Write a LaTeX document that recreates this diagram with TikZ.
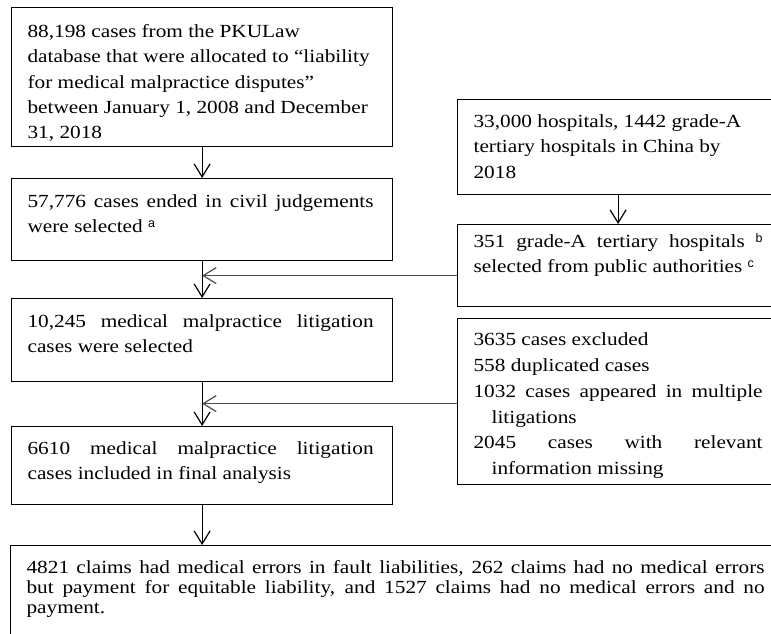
\documentclass[tikz,border=0pt]{standalone}
\usepackage{fontspec}
\setmainfont{Liberation Serif}[FakeStretch=1.15]
\setsansfont{Liberation Sans}
\usetikzlibrary{arrows.meta}

% box contents: [right pad]{width}{height}{first baseline}{text}
\newcommand{\flowtext}[5][16]{%
  \parbox[c][#3pt][t]{#2pt}{\leftskip=16pt\rightskip=#1pt
    \noindent\rule{0pt}{#4pt}#5}}
\newcommand{\supnote}[1]{\raisebox{5pt}{\fontsize{12.5}{12.5}\selectfont\sffamily #1}}

\tikzset{
  flowbox/.style={draw, line width=1.2pt, inner sep=0pt, anchor=north west},
  flowarrow/.style={line width=1.2pt, -{Straight Barb[length=13pt,width=16pt]}},
  sidearrow/.style={flowarrow, black!70},
}

\begin{document}
\begin{tikzpicture}[x=1pt, y=-1pt, font=\fontsize{18.5}{25.3}\selectfont]
    \useasboundingbox (0,0) rectangle (771,634);

    % left column
    \node[flowbox] (pku) at (11,7) {\flowtext[19]{381}{139}{30}{88,198 cases from the PKULaw\\
        database that were allocated to “liability\\ for medical malpractice disputes”\\
        between January 1, 2008 and December\\ 31, 2018}};
    \node[flowbox] (civil) at (11,178) {\flowtext[19]{381}{82}{29}{57,776 cases ended in civil judgements\linebreak
        were selected \supnote{a}}};
    \node[flowbox] (lit) at (11,298) {\flowtext[19]{381}{83}{29}{10,245 medical malpractice litigation\linebreak
        cases were selected}};
    \node[flowbox] (final) at (11,426) {\flowtext[19]{381}{78}{28}{6610 medical malpractice litigation\linebreak
        cases included in final analysis}};
    \node[flowbox] (claims) at (10,545) {\flowtext{770}{110}{28}{\baselineskip=20pt
        4821 claims had medical errors in fault liabilities, 262 claims had no medical errors\linebreak
        but payment for equitable liability, and 1527 claims had no medical errors and no\linebreak
        payment.}};

    % right column
    \node[flowbox] (hosp) at (457,99) {\flowtext{321}{95}{28}{33,000 hospitals, 1442 grade-A\\
        tertiary hospitals in China by\\ 2018}};
    \node[flowbox] (grade) at (457,224) {\flowtext{321}{82}{23}{351 grade-A tertiary hospitals \supnote{b}\linebreak
        selected from public authorities \supnote{c}}};
    \node[flowbox] (excl) at (457,318) {\flowtext{321}{166}{27}{\baselineskip=25.8pt
        3635 cases excluded\par
        558 duplicated cases\par
        \hangindent=18pt 1032 cases appeared in multiple\linebreak litigations\par
        \hangindent=18pt 2045 cases with relevant\linebreak information missing}};

    \draw[flowarrow] (pku) -- (civil);
    \draw[flowarrow] (civil) -- (lit);
    \draw[flowarrow] (lit) -- (final);
    \draw[flowarrow] (final.south) -- (final.south |- claims.north);
    \draw[flowarrow] (hosp) -- (grade);

    \coordinate (j1) at ([yshift=-10pt]grade.west);
    \coordinate (j2) at ([yshift=-2pt]excl.west);
    \draw[sidearrow] (j1) -- (j1 -| civil.south);
    \draw[sidearrow] (j2) -- (j2 -| lit.south);
\end{tikzpicture}
\end{document}
